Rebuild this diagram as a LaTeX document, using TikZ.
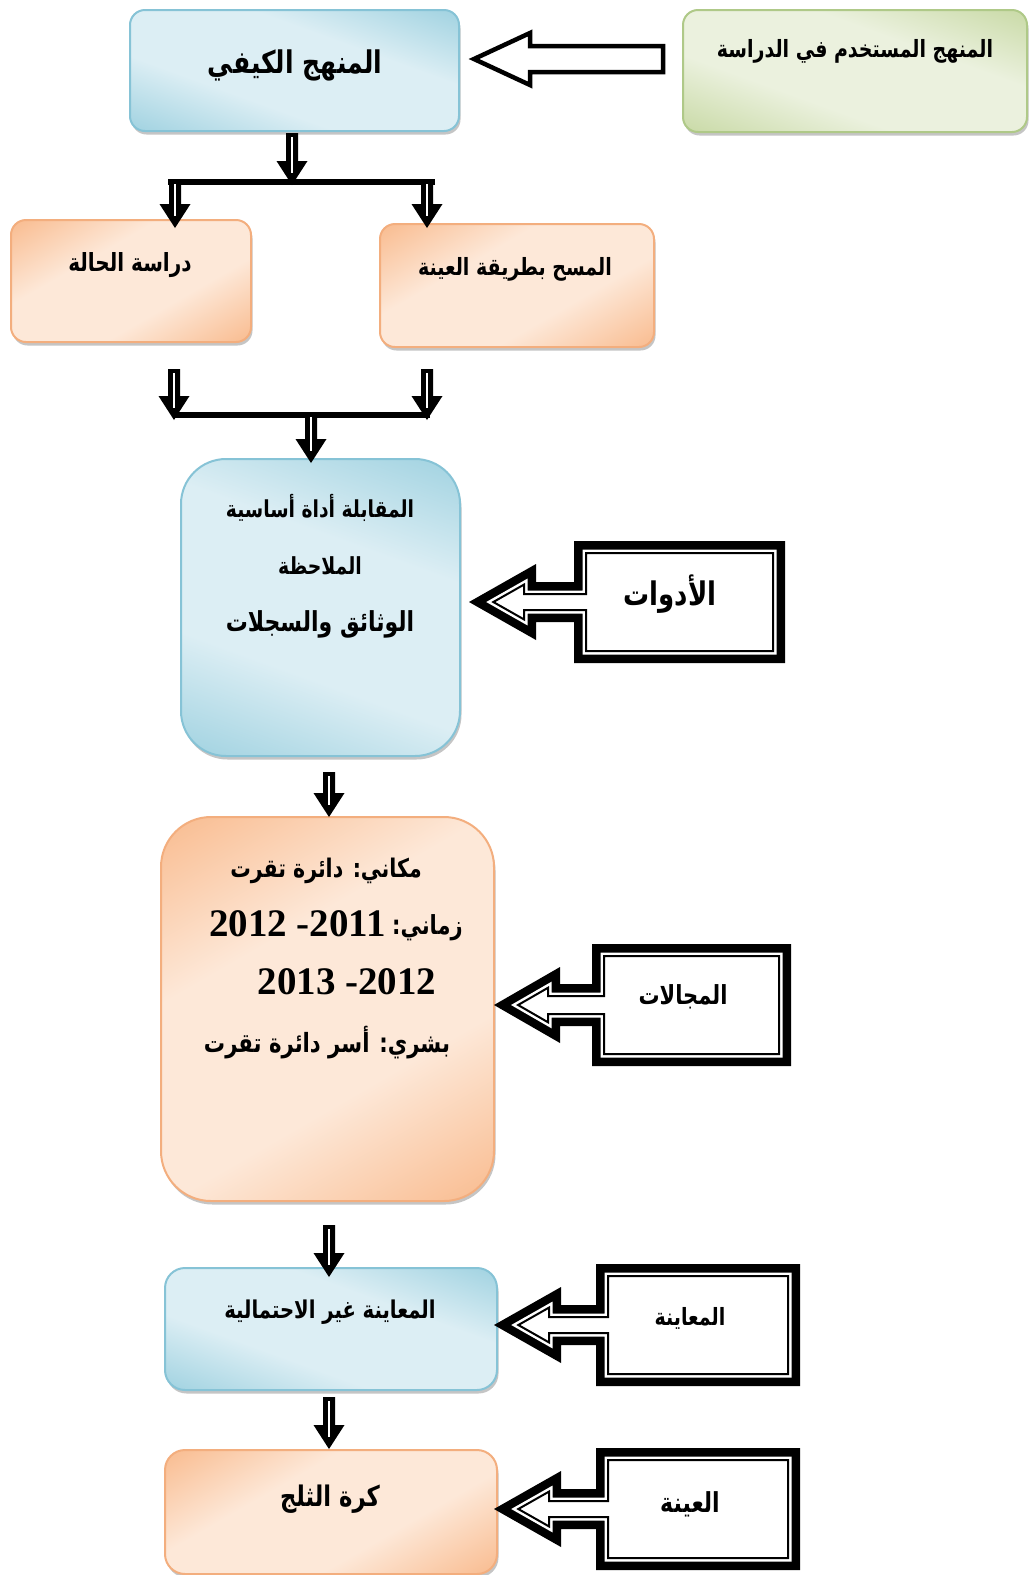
\documentclass[tikz,border=0pt]{standalone}
\usepackage{fontspec}
\usepackage{graphicx}
\usetikzlibrary{shadows,calc}
\newfontfamily\ar[Script=Arabic]{DejaVu Sans}
\newfontfamily\numf{Liberation Serif}
\TeXXeTstate=1
\definecolor{blueD}{HTML}{8FCADB}
\definecolor{blueL}{HTML}{DCEEF4}
\definecolor{blueB}{HTML}{86C3D6}
\definecolor{orD}{HTML}{F8B483}
\definecolor{orL}{HTML}{FDE8D8}
\definecolor{orB}{HTML}{F3AE7E}
\definecolor{grD}{HTML}{BFD396}
\definecolor{grL}{HTML}{EBF1DE}
\definecolor{grB}{HTML}{AFC988}
\pgfdeclarehorizontalshading{bluelin}{100bp}{color(0bp)=(blueD); color(12bp)=(blueD); color(38bp)=(blueL); color(62bp)=(blueL); color(88bp)=(blueD); color(100bp)=(blueD)}
\pgfdeclarehorizontalshading{orlin}{100bp}{color(0bp)=(orD); color(12bp)=(orD); color(38bp)=(orL); color(62bp)=(orL); color(88bp)=(orD); color(100bp)=(orD)}
\pgfdeclarehorizontalshading{grlin}{100bp}{color(0bp)=(grD); color(12bp)=(grD); color(38bp)=(grL); color(62bp)=(grL); color(88bp)=(grD); color(100bp)=(grD)}
\tikzset{
 box/.style={inner sep=0pt, outer sep=0pt, line width=2pt,
   drop shadow={shadow xshift=1.5pt, shadow yshift=-3.5pt, fill=black!45, opacity=0.5}},
 bluebox/.style={box, draw=blueB, shade, shading=bluelin, shading angle=70},
 orbox/.style={box, draw=orB, shade, shading=orlin, shading angle=120},
 grbox/.style={box, draw=grB, shade, shading=grlin, shading angle=70},
 txt/.style={inner sep=0pt, font=\ar\bfseries\fontsize{#1}{#1}\selectfont},
 txt/.default=22,
 numtxt/.style={inner sep=0pt, font=\numf\bfseries\fontsize{39}{42}\selectfont},
 arrowbody/.style={fill=black},
 arrowcore/.style={fill=white},
 barline/.style={draw=black, line width=6pt},
 blockarrow/.style={draw=black, fill=white, line width=4.5pt}
}
\newcommand\AR[1]{\scalebox{1}[1.25]{\beginR #1\endR}}
\newcommand\darrow[2]{%
 \path[arrowbody] let \p1=(#1), \p2=(#2) in
  (\x1-6pt,\y1) -- (\x1-6pt,\y2+24pt) -- (\x1-15.5pt,\y2+24pt) -- (\x1,\y2) --
  (\x1+15.5pt,\y2+24pt) -- (\x1+6pt,\y2+24pt) -- (\x1+6pt,\y1) -- cycle;
 \path[arrowcore] let \p1=(#1), \p2=(#2) in
  (\x1-1.3pt,\y1-4pt) rectangle (\x1+1.3pt,\y2+12pt);}
\newcommand\setcall[8]{\def\cL{#1}\def\cT{#2}\def\cR{#3}\def\cB{#4}\def\cX{#5}\def\cH{#6}\def\chh{#7}\def\csh{#8}}
\newcommand\inset[1]{%
 \pgfmathsetmacro\cC{(\cT+\cB)/2}%
 \pgfmathsetmacro\sa{\chh/sqrt(\chh*\chh+(\cH-\cX)*(\cH-\cX))}%
 \pgfmathsetmacro\Xp{\cX+#1/\sa}%
 \pgfmathsetmacro\Hp{\cH-#1}%
 \pgfmathsetmacro\hhp{\chh/(\cH-\cX)*(\Hp-\Xp)}%
 \pgfmathsetmacro\shp{\csh-#1}%
 \pgfmathsetmacro\Lp{\cL+#1}\pgfmathsetmacro\Rp{\cR-#1}%
 \pgfmathsetmacro\Tp{\cT+#1}\pgfmathsetmacro\Bp{\cB-#1}%
 \pgfmathsetmacro\ya{\cC-\shp}\pgfmathsetmacro\yb{\cC+\shp}%
 \pgfmathsetmacro\yc{\cC-\hhp}\pgfmathsetmacro\yd{\cC+\hhp}}
\newcommand\cshape[1]{\path[#1] (\Lp,\Tp) -- (\Rp,\Tp) -- (\Rp,\Bp) -- (\Lp,\Bp) -- (\Lp,\yb) -- (\Hp,\yb) -- (\Hp,\yd) -- (\Xp,\cC) -- (\Hp,\yc) -- (\Hp,\ya) -- (\Lp,\ya) -- cycle;}
\newcommand\callout[8]{\setcall{#1}{#2}{#3}{#4}{#5}{#6}{#7}{#8}%
 \inset{0}\cshape{fill=black}\inset{8.5}\cshape{fill=white}\inset{12}\cshape{draw=black,line width=2pt,fill=white}}
\begin{document}
\begin{tikzpicture}[x=1pt,y=-1pt]
\useasboundingbox[fill=white] (0,0) rectangle (1029,1575);
% boxes
\node[bluebox, minimum width=329pt, minimum height=121pt, rounded corners=15pt] (kayfi) at (294.5,70.5) {};
\node[grbox, minimum width=344pt, minimum height=122pt, rounded corners=15pt] (green) at (855,71) {};
\node[orbox, minimum width=240pt, minimum height=122pt, rounded corners=15pt] (case) at (131,281) {};
\node[orbox, minimum width=274pt, minimum height=123pt, rounded corners=15pt] (survey) at (517,285.5) {};
\node[bluebox, minimum width=279pt, minimum height=297pt, rounded corners=45pt] (tools) at (320.5,607.5) {};
\node[orbox, minimum width=333pt, minimum height=384pt, rounded corners=50pt] (fields) at (327.5,1009) {};
\node[bluebox, minimum width=332pt, minimum height=122pt, rounded corners=20pt] (sampling) at (331,1329) {};
\node[orbox, minimum width=332pt, minimum height=124pt, rounded corners=20pt] (snow) at (331,1512) {};
% texts
\node[txt=25] (t-kayfi) at (295,65) {\AR{المنهج الكيفي}};
\node[txt=19] (t-green) at (855,51) {\AR{المنهج المستخدم في الدراسة}};
\node[txt=20] (t-case) at (130,265) {\AR{دراسة الحالة}};
\node[txt=19] (t-survey) at (515,269) {\AR{المسح بطريقة العينة}};
\node[txt=18.7] (t-tools1) at (320,508) {\AR{المقابلة أداة أساسية}};
\node[txt=18.8] (t-tools2) at (320,566) {\AR{الملاحظة}};
\node[txt=22] (t-tools3) at (320,624) {\AR{الوثائق والسجلات}};
\node[txt=20.5] (t-f1) at (326,871) {\AR{مكاني: دائرة تقرت}};
\node[txt=21, anchor=west] (t-f2a) at (392,928) {\AR{زماني:}};
\node[numtxt, anchor=east] (t-f2b) at (386,924) {2012 -2011};
\node[numtxt] (t-f3) at (347,982) {2013 -2012};
\node[txt=21.2] (t-f4) at (327,1043) {\AR{بشري: أسر دائرة تقرت}};
\node[txt=19.6] (t-samp) at (330,1312) {\AR{المعاينة غير الاحتمالية}};
\node[txt=22.7] (t-snow) at (330,1499) {\AR{كرة الثلج}};
% top block arrow
\coordinate (ga) at (663,59);
\coordinate (gb) at (474,59);
\draw[blockarrow] let \p1=(ga), \p2=(gb) in
  (\x1,\y1+13pt) -- (\x2+56pt,\y1+13pt) -- (\x2+56pt,\y1+26pt) -- (\x2,\y2) --
  (\x2+56pt,\y1-26pt) -- (\x2+56pt,\y1-13pt) -- (\x1,\y1-13pt) -- cycle;
% bars and hollow arrows
\coordinate (bl) at (168,182); \coordinate (br) at (435,182);
\coordinate (cl) at (174,415); \coordinate (cr) at (430,415);
\draw[barline] (bl) -- (br);
\draw[barline] (cl) -- (cr);
\coordinate (a1s) at (292,133); \coordinate (a1e) at (292,185);
\coordinate (a2s) at (175,180); \coordinate (a2e) at (175,228);
\coordinate (a3s) at (427,180); \coordinate (a3e) at (427,228);
\coordinate (a4s) at (174,369); \coordinate (a4e) at (174,420);
\coordinate (a5s) at (427,369); \coordinate (a5e) at (427,420);
\coordinate (a6s) at (311,413); \coordinate (a6e) at (311,463);
\coordinate (a7s) at (329,772); \coordinate (a7e) at (329,817);
\coordinate (a8s) at (329,1225); \coordinate (a8e) at (329,1277);
\coordinate (a9s) at (329,1397); \coordinate (a9e) at (329,1449);
\darrow{a1s}{a1e}
\darrow{a2s}{a2e}
\darrow{a3s}{a3e}
\darrow{a4s}{a4e}
\darrow{a5s}{a5e}
\darrow{a6s}{a6e}
\darrow{a7s}{a7e}
\darrow{a8s}{a8e}
\darrow{a9s}{a9e}
% callouts
\callout{574}{541}{785}{663}{469}{536}{38}{20}
\node[txt=26] (c-tools) at (670,594) {\AR{الأدوات}};
\callout{592}{944}{791}{1066}{494}{560}{38}{21}
\node[txt=21] (c-fields) at (683,997) {\AR{المجالات}};
\callout{596}{1264}{800}{1386}{494}{561}{38}{20}
\node[txt=19] (c-samp) at (690,1318) {\AR{المعاينة}};
\callout{596}{1448}{800}{1570}{494}{561}{38}{20}
\node[txt=22] (c-snow) at (690,1504) {\AR{العينة}};
\end{tikzpicture}
\end{document}
